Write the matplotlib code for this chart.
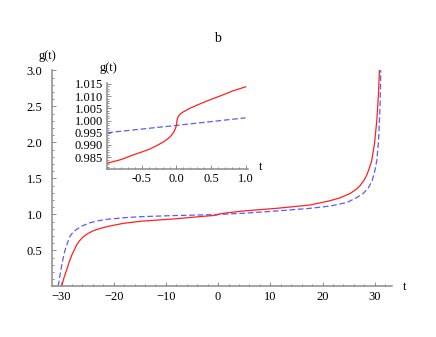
import matplotlib
matplotlib.use("Agg")
import matplotlib.pyplot as plt
from matplotlib.ticker import MultipleLocator, FormatStrFormatter, FixedLocator

plt.rcParams['font.family'] = ['Liberation Serif', 'DejaVu Serif']
plt.rcParams['font.size'] = 9

# main panel
t_red = [-29.95, -29.5, -29.0, -28.5, -28.0, -27.5, -27.1, -26.5, -25.8, -25.0, -23.9,
         -22.5, -21.3, -19.5, -18.1, -16.0, -14.9, -12.0, -8.6, -5.0, -2.2,
         -1.0, -0.2, 0.0, 0.2, 1.0, 4.8, 11.2, 17.6, 21.5, 23.4, 25.3, 26.5, 27.2,
         28.0, 28.5, 29.0, 29.4, 29.95, 30.4, 30.7, 30.9]
g_red = [0.0, 0.12, 0.226, 0.34, 0.435, 0.51, 0.574, 0.635, 0.689, 0.73, 0.772,
         0.805, 0.828, 0.855, 0.875, 0.893, 0.903, 0.918, 0.935, 0.958, 0.976,
         0.9825, 0.991, 0.998, 1.003, 1.0138, 1.046, 1.083, 1.129, 1.19, 1.23, 1.29, 1.35, 1.40,
         1.48, 1.55, 1.65, 1.74, 1.98, 2.31, 2.66, 3.0]
t_blue = [-30.6, -30.35, -30.1, -29.7, -29.3, -28.8, -28.4, -27.8, -27.1, -26.0, -24.5,
          -23.0, -21.3, -18.0, -14.9, -8.6, -1.0, 0.0, 1.0, 4.8, 11.2, 17.6, 21.5, 24.7,
          26.5, 27.8, 28.8, 29.5, 30.0, 30.4, 30.7, 30.9, 31.05, 31.15]
g_blue = [0.0, 0.12, 0.226, 0.38, 0.504, 0.61, 0.689, 0.75, 0.79, 0.84, 0.883,
          0.91, 0.93, 0.952, 0.967, 0.982, 0.995, 0.998, 1.001, 1.014, 1.046, 1.083, 1.115, 1.165,
          1.23, 1.29, 1.37, 1.47, 1.6, 1.75, 2.0, 2.3, 2.6, 3.0]

# inset panel
ti_red = [-1.0, -0.8, -0.627, -0.5, -0.387, -0.3, -0.196, -0.12, -0.076, -0.04, -0.014,
          0.0, 0.005, 0.015, 0.035, 0.06, 0.09, 0.2, 0.33, 0.45, 0.57, 0.7, 0.81, 1.0]
gi_red = [0.9825, 0.984, 0.9859, 0.9871, 0.9883, 0.9895, 0.9911, 0.9926, 0.9938, 0.9952, 0.9968,
          0.998, 0.9995, 1.001, 1.002, 1.0028, 1.0034, 1.0051, 1.0067, 1.0081, 1.0094, 1.0108,
          1.0121, 1.0138]
ti_blue = [-1.0, 0.0, 1.0]
gi_blue = [0.995, 0.998, 1.0011]

AX_COL = '#8c8c8c'
RED = '#ff2020'
BLUE = '#5b5bff'


def style_axes(ax):
    for s in ['top', 'right']:
        ax.spines[s].set_visible(False)
    for s in ['left', 'bottom']:
        ax.spines[s].set_color(AX_COL)
        ax.spines[s].set_linewidth(1.1)
    ax.tick_params(which='both', direction='in', color=AX_COL, width=0.7)
    ax.tick_params(which='major', length=3.2)
    ax.tick_params(which='minor', length=1.7)
    ax.patch.set_alpha(0)


fig = plt.figure(figsize=(4.36, 3.37), dpi=100)

ax = fig.add_axes([52 / 436, 1 - 286.3 / 337, 340 / 436, 216 / 337])
ax.plot(t_blue, g_blue, color=BLUE, lw=0.9, dashes=(4.5, 2.2))
ax.plot(t_red, g_red, color=RED, lw=0.9)
ax.set_xlim(-31.8, 33.3)
ax.set_ylim(0, 3.0)
style_axes(ax)
ax.xaxis.set_major_locator(MultipleLocator(10))
ax.xaxis.set_minor_locator(MultipleLocator(2))
ax.yaxis.set_major_locator(FixedLocator([0.5, 1.0, 1.5, 2.0, 2.5, 3.0]))
ax.yaxis.set_minor_locator(MultipleLocator(0.1))
ax.yaxis.set_major_formatter(FormatStrFormatter('%.1f'))
ax.tick_params(axis='y', pad=7)
ax.tick_params(axis='x', pad=3.5)
fig.text(47 / 436, 1 - 56 / 337, 'g(t)', ha='center', va='center')
fig.text(405 / 436, 1 - 287 / 337, 't', ha='center', va='center')
fig.text(217 / 436, 1 - 38 / 337, 'b', ha='center', va='center', fontsize=10)

# inset
axi = fig.add_axes([107.3 / 436, 1 - 169.3 / 337, 140.4 / 436, 86.6 / 337])
axi.plot(ti_blue, gi_blue, color=BLUE, lw=0.9, dashes=(4.5, 2.2))
axi.plot(ti_red, gi_red, color=RED, lw=0.9)
axi.set_xlim(-1.0, 1.03)
axi.set_ylim(0.980, 1.0155)
style_axes(axi)
axi.xaxis.set_major_locator(FixedLocator([-0.5, 0.0, 0.5, 1.0]))
axi.xaxis.set_minor_locator(MultipleLocator(0.1))
axi.xaxis.set_major_formatter(FormatStrFormatter('%.1f'))
axi.yaxis.set_major_locator(FixedLocator([0.985, 0.990, 0.995, 1.000, 1.005, 1.010, 1.015]))
axi.yaxis.set_minor_locator(MultipleLocator(0.001))
axi.yaxis.set_major_formatter(FormatStrFormatter('%.3f'))
axi.tick_params(axis='y', pad=3)
axi.tick_params(axis='x', pad=2.5)
fig.text(108 / 436, 1 - 68 / 337, 'g(t)', ha='center', va='center')
fig.text(261 / 436, 1 - 166.7 / 337, 't', ha='center', va='center')

fig.savefig('out.png', dpi=100)
